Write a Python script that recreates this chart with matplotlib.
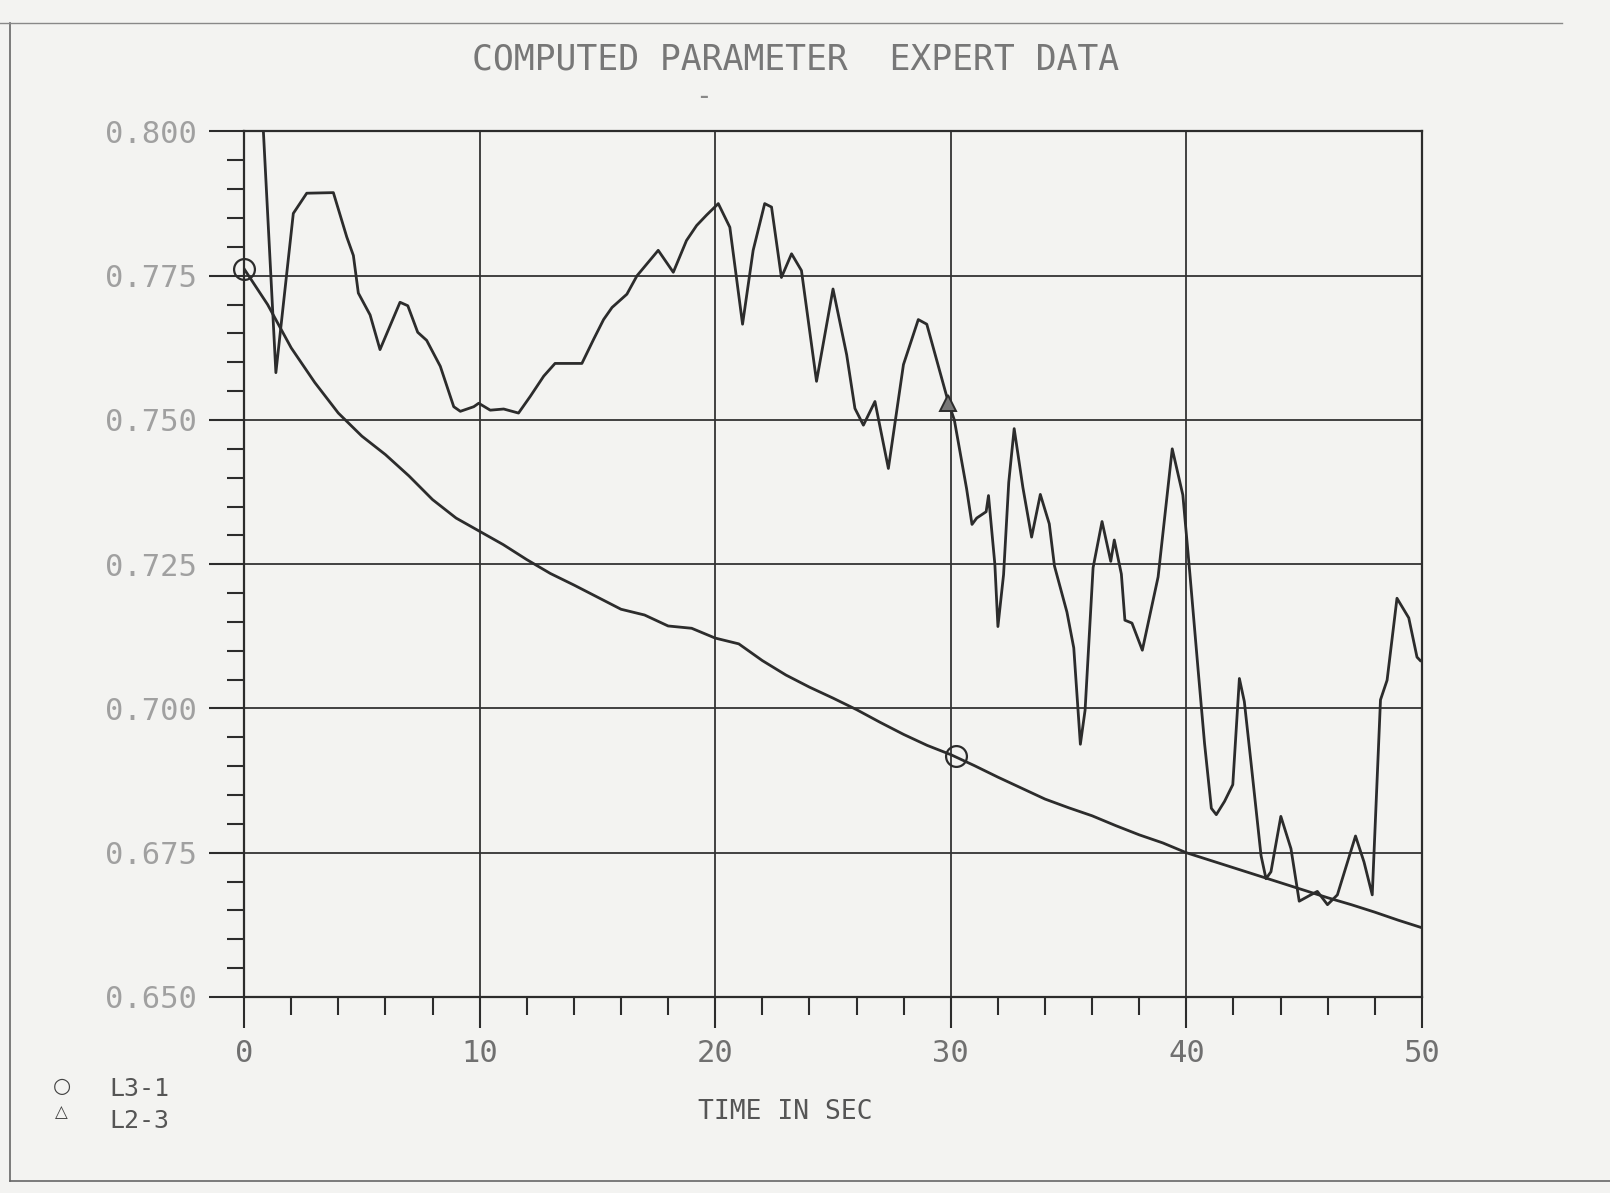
#!/usr/bin/env python3

import numpy as np
import matplotlib
matplotlib.use("Agg")
import matplotlib.pyplot as plt
from matplotlib.lines import Line2D
from matplotlib.ticker import MultipleLocator, FormatStrFormatter

# L3-1 computed parameter (smooth curve)
l31_time = [0, 1, 2, 3, 4, 5, 6, 7, 8, 9, 10, 11, 12, 13, 14, 15, 16, 17, 18, 19,
            20, 21, 22, 23, 24, 25, 26, 27, 28, 29, 30, 31, 32, 33, 34, 35, 36, 37,
            38, 39, 40, 41, 42, 43, 44, 45, 46, 47, 48, 49, 50]
l31_value = [0.7762, 0.7700, 0.7625, 0.7565, 0.7512, 0.7472, 0.7440, 0.7403, 0.7362, 0.7330,
             0.7307, 0.7284, 0.7258, 0.7234, 0.7214, 0.7193, 0.7172, 0.7162, 0.7143, 0.7139,
             0.7122, 0.7112, 0.7083, 0.7058, 0.7037, 0.7018, 0.6998, 0.6976, 0.6955, 0.6936,
             0.6920, 0.6901, 0.6881, 0.6862, 0.6843, 0.6828, 0.6814, 0.6797, 0.6781, 0.6767,
             0.6750, 0.6737, 0.6724, 0.6711, 0.6698, 0.6685, 0.6672, 0.6660, 0.6647, 0.6633,
             0.6620]

# L2-3 expert data (noisy curve)
l23_time = [0.82, 1.35, 2.09, 2.66, 3.79, 4.36, 4.64, 4.85, 5.35, 5.77, 6.62, 6.95, 7.37,
            7.75, 8.33, 8.9, 9.18, 9.75, 9.96, 10.45, 11.02, 11.65, 12.15, 12.72, 13.2,
            14.34, 14.84, 15.26, 15.62, 16.25, 16.68, 17.58, 18.22, 18.78, 19.21, 19.63,
            20.13, 20.62, 21.16, 21.61, 22.1, 22.39, 22.81, 23.24, 23.66, 24.3, 25.0, 25.58,
            25.93, 26.29, 26.78, 27.35, 27.99, 28.62, 28.98, 29.9, 30.15, 30.67, 30.9,
            31.1, 31.5, 31.6, 31.87, 32.0, 32.24, 32.46, 32.69, 33.06, 33.43, 33.8, 34.18,
            34.4, 34.93, 35.22, 35.5, 35.7, 36.04, 36.42, 36.79, 36.94, 37.24, 37.39,
            37.69, 38.13, 38.8, 39.4, 39.85, 40.15, 40.5, 40.77, 41.06, 41.27, 41.62,
            41.97, 42.25, 42.46, 42.75, 43.17, 43.38, 43.59, 44.01, 44.44, 44.79, 45.28,
            45.56, 45.99, 46.41, 47.18, 47.54, 47.89, 48.24, 48.52, 48.94, 49.44, 49.79,
            49.93]
l23_value = [0.800, 0.7582, 0.7858, 0.7893, 0.7894, 0.7817, 0.7785, 0.7720, 0.7682, 0.7622,
             0.7704, 0.7698, 0.7652, 0.7638, 0.7593, 0.7523, 0.7515, 0.7523, 0.7529, 0.7517,
             0.7519, 0.7512, 0.7541, 0.7576, 0.7598, 0.7598, 0.764, 0.7674, 0.7695, 0.7718,
             0.775, 0.7794, 0.7756, 0.7811, 0.7837, 0.7855, 0.7875, 0.7834, 0.7666, 0.7794,
             0.7875, 0.7869, 0.7747, 0.7788, 0.7759, 0.7567, 0.7727, 0.7613, 0.7520, 0.7491,
             0.7532, 0.7416, 0.7596, 0.7674, 0.7666, 0.7530, 0.750, 0.7381, 0.7319, 0.7330,
             0.7341, 0.7369, 0.725, 0.7142, 0.7232, 0.7392, 0.7485, 0.7383, 0.7297, 0.7371,
             0.732, 0.7247, 0.7167, 0.7105, 0.6938, 0.6997, 0.7244, 0.7324, 0.7255, 0.7292,
             0.7233, 0.7153, 0.7148, 0.7101, 0.7228, 0.7450, 0.7370, 0.7233, 0.7066, 0.694,
             0.6827, 0.6816, 0.6839, 0.6868, 0.7052, 0.7012, 0.6904, 0.6745, 0.6705, 0.6717,
             0.6813, 0.6757, 0.6666, 0.6677, 0.6683, 0.666, 0.6677, 0.6779, 0.6734, 0.6677,
             0.7015, 0.7049, 0.7191, 0.7157, 0.7089, 0.7083]

# plot symbols
l31_mark_time = [0.0, 30.2]
l31_mark_value = [0.7762, 0.6917]
l23_mark_time = [29.9]
l23_mark_value = [0.7529]

x_ticks = [0, 10, 20, 30, 40, 50]
y_ticks = [0.650, 0.675, 0.700, 0.725, 0.750, 0.775, 0.800]

PAPER = "#f3f3f1"
INK = "#2c2c2c"
MONO = "DejaVu Sans Mono"


def main():
    fig = plt.figure(figsize=(16.10, 11.93), dpi=100, facecolor=PAPER)
    ax = fig.add_axes([0.1516, 0.1643, 0.7316, 0.7255])
    ax.set_facecolor(PAPER)

    ax.plot(l31_time, l31_value, color=INK, lw=2.0)
    ax.plot(l23_time, l23_value, color=INK, lw=2.0)
    ax.plot(l31_mark_time, l31_mark_value, ls="none", marker="o", ms=15,
            mfc="none", mec=INK, mew=1.6, clip_on=False)
    ax.plot(l23_mark_time, l23_mark_value, ls="none", marker="^", ms=11,
            mfc="#777777", mec=INK, mew=1.4, clip_on=False)

    ax.set_xlim(0, 50)
    ax.set_ylim(0.650, 0.800)
    ax.set_xticks(x_ticks)
    ax.set_yticks(y_ticks)
    ax.xaxis.set_minor_locator(MultipleLocator(2))
    ax.yaxis.set_minor_locator(MultipleLocator(0.005))
    ax.yaxis.set_major_formatter(FormatStrFormatter("%.3f"))

    ax.grid(True, which="major", color="#333333", lw=1.3)
    for sp in ax.spines.values():
        sp.set_color(INK)
        sp.set_linewidth(1.6)

    ax.tick_params(axis="y", which="major", direction="out", length=25, width=1.5,
                   color=INK, pad=9, labelsize=22, labelcolor="#a0a0a0")
    ax.tick_params(axis="y", which="minor", direction="out", length=12, width=1.5,
                   color=INK)
    ax.tick_params(axis="x", which="major", direction="out", length=22, width=1.5,
                   color=INK, pad=8, labelsize=22, labelcolor="#707070")
    ax.tick_params(axis="x", which="minor", direction="out", length=13, width=1.5,
                   color=INK)
    for lab in ax.get_xticklabels() + ax.get_yticklabels():
        lab.set_family(MONO)

    fig.text(0.494, 0.950, "COMPUTED PARAMETER  EXPERT DATA", family=MONO,
             fontsize=25, color="#777777", ha="center", va="center")
    fig.text(0.437, 0.919, "-", family=MONO, fontsize=20, color="#888888",
             ha="center", va="center")
    fig.text(0.488, 0.068, "TIME IN SEC", family=MONO, fontsize=19,
             color="#555555", ha="center", va="center")

    # legend block, lower left
    fig.text(0.0383, 0.090, "\u25cb", family="DejaVu Sans", fontsize=15,
             color="#444444", ha="center", va="center")
    fig.text(0.0383, 0.068, "\u25b3", family="DejaVu Sans", fontsize=12,
             color="#444444", ha="center", va="center")
    fig.text(0.068, 0.087, "L3-1", family=MONO, fontsize=18, color="#555555",
             ha="left", va="center")
    fig.text(0.068, 0.060, "L2-3", family=MONO, fontsize=18, color="#555555",
             ha="left", va="center")

    # page frame from the scan
    fig.add_artist(Line2D([0.006, 0.006], [0.010, 0.981], color="#666666", lw=1.2))
    fig.add_artist(Line2D([0.006, 1.0], [0.010, 0.010], color="#666666", lw=1.2))
    fig.add_artist(Line2D([0.0, 0.97], [0.981, 0.981], color="#888888", lw=1.0))

    fig.savefig("out.png", dpi=100, facecolor=PAPER)


if __name__ == "__main__":
    main()
